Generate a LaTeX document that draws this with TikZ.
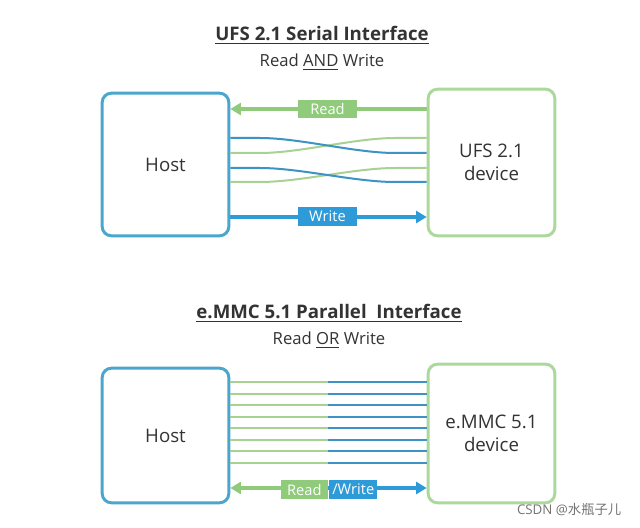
\documentclass[tikz,border=0pt]{standalone}
\usepackage{fontspec}
\setmainfont{Open Sans}
\newfontfamily\cjk{Noto Sans CJK SC}
\usetikzlibrary{arrows.meta}
\definecolor{hostblue}{HTML}{4AA6CC}
\definecolor{devgreen}{HTML}{ADD89C}
\definecolor{wblue}{HTML}{2E9AD8}
\definecolor{lblue}{HTML}{3C93C4}
\definecolor{rgreen}{HTML}{8FCB7A}
\definecolor{lgreen}{HTML}{A8D294}
\definecolor{txt}{HTML}{333333}
\tikzset{
  hostbox/.style={draw=hostblue, line width=2.2pt, rounded corners=7pt, fill=white, text=txt, font=\fontsize{14}{17}\selectfont, align=center, inner sep=0pt},
  devbox/.style={draw=devgreen, line width=2.2pt, rounded corners=7pt, fill=white, text=txt, font=\fontsize{14}{17}\selectfont, align=center, inner sep=0pt},
  ttl/.style={text=txt, font=\fontsize{14}{17}\selectfont\bfseries},
  sub/.style={text=txt, font=\fontsize{12.5}{15}\selectfont},
  lab/.style={text=white, font=\fontsize{11}{13}\selectfont, inner sep=0pt, minimum height=14pt},
  wire/.style={line width=1.5pt},
  bigarrow/.style={line width=2.8pt, -{Triangle[length=8pt,width=9pt]}},
}
\begin{document}
\begin{tikzpicture}[x=0.75pt,y=-0.75pt]
\useasboundingbox[fill=white] (0,0) rectangle (640,528);
% ---- top ----
\node[ttl] (t1) at (322,35) {\underline{UFS 2.1 Serial Interface}};
\node[sub] (s1) at (322,62) {Read \underline{AND} Write};
\node[hostbox, minimum width=95pt, minimum height=107pt] (h1) at (165.5,164.5) {Host};
\node[devbox, minimum width=95pt, minimum height=110pt] (d1) at (491.5,162.5) {UFS 2.1\\device};
\coordinate (rl) at (h1.east |- 0,109);
\coordinate (rr) at (d1.west |- 0,109);
\draw[bigarrow, rgreen] (rr) -- (rl);
\node[lab, fill=rgreen, minimum width=44pt] (rlab) at (327.5,109) {Read};
\coordinate (wl) at (h1.east |- 0,217);
\coordinate (wr) at (d1.west |- 0,217);
\draw[bigarrow, wblue] (wl) -- (wr);
\node[lab, fill=wblue, minimum width=44pt] (wlab) at (327.5,216.5) {Write};
% crossing wires
\foreach \ya/\yb in {138/153, 168/182}{
  \coordinate (gl) at (h1.east |- 0,\yb);
  \coordinate (gr) at (d1.west |- 0,\ya);
  \coordinate (bl) at (h1.east |- 0,\ya);
  \coordinate (br) at (d1.west |- 0,\yb);
  \draw[wire, lgreen] (gl) -- (260,\yb) .. controls (300,\yb) and (355,\ya) .. (395,\ya) -- (gr);
  \draw[wire, lblue] (bl) -- (260,\ya) .. controls (300,\ya) and (355,\yb) .. (395,\yb) -- (br);
}
% ---- bottom ----
\node[ttl] (t2) at (329,313) {\underline{e.MMC 5.1 Parallel\ \ Interface}};
\node[sub] (s2) at (329,340) {Read \underline{OR} Write};
\node[hostbox, minimum width=95pt, minimum height=101pt] (h2) at (165.5,435.5) {Host};
\node[devbox, minimum width=95pt, minimum height=104pt] (d2) at (491.5,433.5) {e.MMC 5.1\\device};
\foreach \y in {382,393.5,405,416.5,428,439.5,451,462.5}{
  \coordinate (pl) at (h2.east |- 0,\y);
  \coordinate (pr) at (d2.west |- 0,\y);
  \coordinate (pm) at (328,\y);
  \draw[wire, lgreen] (pl) -- (pm);
  \draw[wire, lblue] (pm) -- (pr);
}
\coordinate (al) at (h2.east |- 0,488);
\coordinate (ar) at (d2.west |- 0,488);
\coordinate (am) at (328,488);
\draw[bigarrow, rgreen] (am) -- (al);
\draw[bigarrow, wblue] (am) -- (ar);
\node[lab, fill=rgreen, minimum width=35pt, anchor=east] (rw1) at (328,489.5) {Read};
\node[lab, fill=wblue, minimum width=36pt, anchor=west] (rw2) at (329,489.5) {/Write};
% watermark
\node[text=black!55, font=\fontsize{10}{12}\selectfont, anchor=east] (wm) at (626,510) {CSDN @{\cjk 水瓶子儿}};
\end{tikzpicture}
\end{document}
